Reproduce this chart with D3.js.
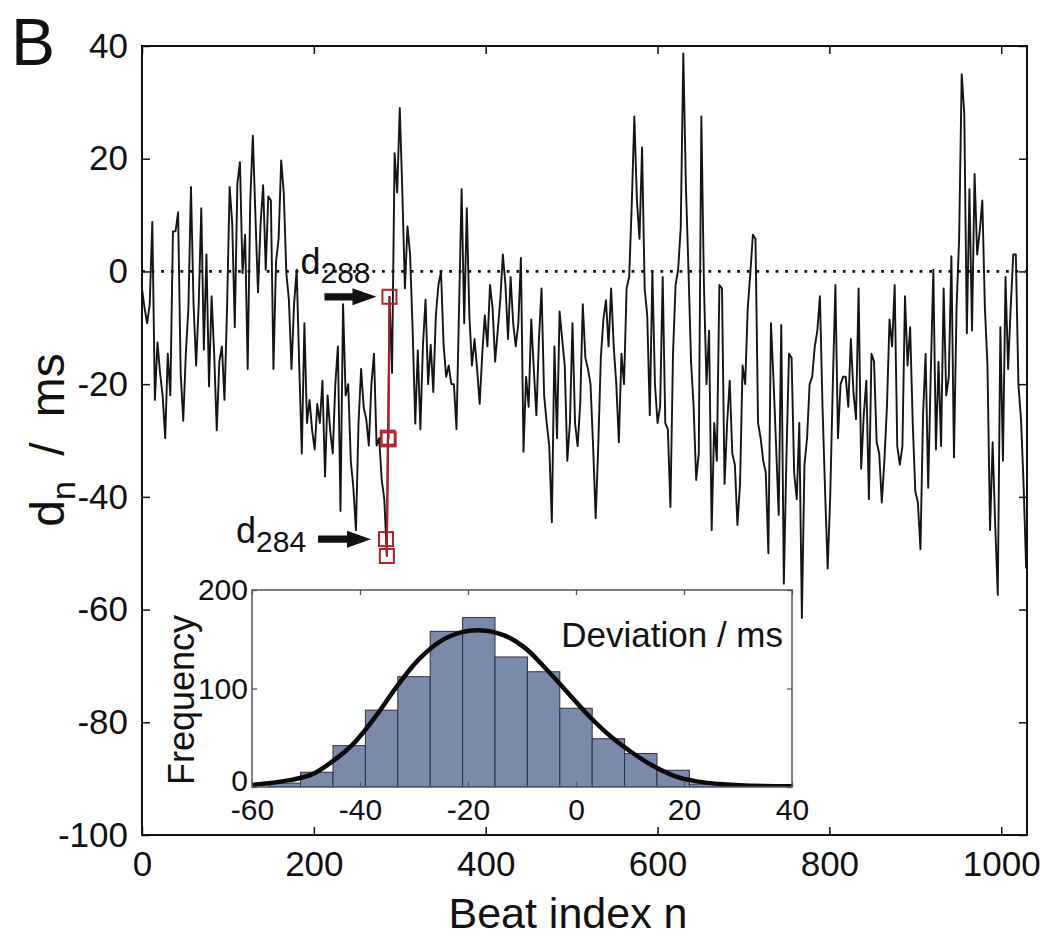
<!DOCTYPE html>
<head>
  <meta charset="utf-8">
  <script src="https://d3js.org/d3.v7.min.js"></script>
  <style>
    body { margin: 0; background: #fff; }
    svg text { font-family: "Liberation Sans", Arial, sans-serif; fill: #111; }
  </style>
</head>
<body>
<script>
// d_n in ms, every 3rd beat, split in five stretches
var dnPart1 = [-3.1, -6.5, -9.2, -5.8, 8.8, -22.8, -12.6, -18, -22, -29.6, -14.6, -22, 7.1, 7.1, 10.5, -18, -26.5, -14.6, -6.5, 15,
  -5.8, -16.7, -5.8, 11.2, -13.9, 3, -20.4, -4.4, -14.6, -28.2, -16, -13.3, -22.8, -6.5, 15, 8.5, -9.9, 15.6, 19.4, -0.3,
  6.5, -17.3, 12.6, 24.1, 9.9, -3.7, 8.5, 15.3, 0.3, 13.3, 12.6, -17.3, 1.7, 5.8, 19.7, 13.9, -0.3, -5.1, -17.3, -5.8,
  0.3, -16.7, -32.3, -9.2, -26.9, -22.8, -28.2, -31.6, -23.5];
var dnPart2 = [-26.9, -19.4, -36.4, -22, -28.2, -32.3, -20, -13.3, -42.5, -5.8, -22, -20, -33.6, -38.4, -45.9, -26.9, -17.3, -24.1, -26.2, -30.9,
  -20, -14.6, -30.9, -29.6, -37, -40.4, -50.5, -4.5, -18, 21, 14, 29, 14, -3, 8, 3, -10.5, -27, -14, -28,
  -13, -5, -20, -13, -21.4, -7.8, -2.4, 0, -13, -18.7, -16.7, -20, -20, -28, -6.5, 14.6, -9.2, 11.2, -7.8, -16.7,
  -12, -17.3, -23.5, -14.6, -7.8, -13.3, -2.4, -6.5];
var dnPart3 = [-16, -10.5, -5, 3, -2.4, -12, -1, -9.2, -13.3, -9.2, 2.4, -32, -18.7, -24, -8.5, -17.3, -25.5, -12, -3, -22,
  -26.9, -31, -44.5, -13.3, -29.6, -7.1, -12, -16.7, -33.6, -26.9, -9.2, -26.9, -31, -23.5, -5.8, -15.3, -17.3, -20, -31, -43.8,
  -31, -15.3, -8.5, -5.1, -13.3, -3, -13.3, -20, -30.3, -14.6, -20, -3, -1, 11.9, 27.5, 12.6, 5.8, 22, -3, -7.8,
  -25.5, 0, -20, -26.9, -24, -1, -26.9];
var dnPart4 = [-28, -41.8, -14.6, -2.4, 0.3, 7.8, 38.7, 15.3, 0.3, -16, -24, -37, -32.3, 27.5, -2.4, -20, -10.5, -45.9, -26.9, -33.6,
  -2.4, -3, -37.7, -26.9, -19.4, -32.3, -34.3, -45, -37.7, -16.7, -20, -6.5, -0.3, 6.5, 5.8, -26.9, -29.6, -33.6, -35.7, -50,
  -9.2, -19.4, -31, -43.2, -9.5, -55.4, -33, -14.6, -15.3, -35.7, -40.4, -26.9, -61.5, -34.3, -29.6, -20, -18.7, -13.3, -10.5, -4.4,
  -24, -39, -52.7, -39.8, -20, -2.4, -29.6, -20, -18.7];
var dnPart5 = [-18.7, -24, -12, -21.4, -26.2, -3, -35, -25.5, -19.4, -40.4, -14.6, -16, -30.3, -32.3, -41, -33.6, -24, -8.5, -13.3, -2.4,
  -31, -34.3, -31, -4.4, -16.7, -9.9, -26.9, -39, -41, -49.3, -25.5, -14.6, -38.4, -18, 0.3, -31.6, -16, -31, -3, -22,
  -18.7, 2.7, -33, -6.5, 5.8, 35, 28, -11, 14.6, -10.5, 17.3, 3, 7.1, 12.6, -6.5, -16.7, -45.9, -30.3, -45, -57.4,
  -9.9, -33.6, -1, -17.3, -6.5, 3, 3, -20, -26.2, -37.7, -52.7];
var beatStep = 3;

// the highlighted beats d284 ... d288
var redBeats = [284, 285, 286, 287, 288];
var redValues = [-47.5, -50.5, -29.5, -29.8, -4.5];

// histogram of deviations (bin centres, counts) and the fitted curve
var binCenters = [-54, -48, -42, -36, -30, -24, -18, -12, -6, 0, 6, 12, 18, 24, 30];
var binCounts = [4, 15, 42, 78, 112, 158, 172, 132, 117, 80, 49, 34, 17, 3, 1];
var binWidth = 6;
var fitDev = [-60, -53, -49, -45.1, -41.1, -37.1, -33.2, -29.2, -25.2, -21.3, -17.3, -13.3, -9.4, -5.4, -1.4, 2.5, 6.5, 10.5, 14.4, 18.4, 22.4, 30.3, 40];
var fitFreq = [2, 7, 12.5, 26, 44.6, 71.6, 102, 129, 147.6, 157, 159, 154, 141, 119, 95, 71.6, 51, 34.5, 21, 10.8, 5.7, 1.7, 0.7];

var xTicks = [0, 200, 400, 600, 800, 1000];
var yTicks = [-100, -80, -60, -40, -20, 0, 20, 40];
var insetXTicks = [-60, -40, -20, 0, 20, 40];
var insetYTicks = [0, 100, 200];

var dn = dnPart1.concat(dnPart2, dnPart3, dnPart4, dnPart5);
var series = dn.map(function(v, i) { return { beat: i * beatStep, value: v }; });
var redPoints = redBeats.map(function(b, i) { return { beat: b, value: redValues[i] }; });

var outerWidth = 1040, outerHeight = 938;
var plot = { left: 142, right: 1027, top: 46, bottom: 835 };
var inset = { left: 252, right: 792, top: 590, bottom: 787 };

var x = d3.scaleLinear().domain([0, 1030]).range([plot.left, plot.right]);
var y = d3.scaleLinear().domain([-100, 40]).range([plot.bottom, plot.top]);
var ix = d3.scaleLinear().domain([-60, 40]).range([inset.left, inset.right]);
var iy = d3.scaleLinear().domain([0, 200]).range([inset.bottom, inset.top]);

// plain hyphen minus like the original figure
var plainNum = function(d) { return String(d); };

var svg = d3.select("body").append("svg")
  .attr("width", outerWidth)
  .attr("height", outerHeight);

var defs = svg.append("defs");
defs.append("clipPath").attr("id", "plotClip").append("rect")
  .attr("x", plot.left).attr("y", plot.top)
  .attr("width", plot.right - plot.left).attr("height", plot.bottom - plot.top);
defs.append("clipPath").attr("id", "insetClip").append("rect")
  .attr("x", inset.left).attr("y", inset.top)
  .attr("width", inset.right - inset.left).attr("height", inset.bottom - inset.top);

// dotted zero line
svg.append("line")
  .attr("x1", x(0)).attr("x2", x(1030))
  .attr("y1", y(0)).attr("y2", y(0))
  .attr("stroke", "#111")
  .attr("stroke-width", 2.8)
  .attr("stroke-dasharray", "2.8,6.8");

// the beat trace
var line = d3.line()
  .x(function(d) { return x(d.beat); })
  .y(function(d) { return y(d.value); });

svg.append("path")
  .datum(series)
  .attr("clip-path", "url(#plotClip)")
  .attr("d", line)
  .attr("fill", "none")
  .attr("stroke", "#141414")
  .attr("stroke-width", 1.9)
  .attr("stroke-linejoin", "round");

// highlighted beats
var red = "#b0202a";
svg.append("path")
  .datum(redPoints)
  .attr("d", line)
  .attr("fill", "none")
  .attr("stroke", red)
  .attr("stroke-width", 2);

var sq = 14;
svg.selectAll(".redSq")
  .data(redPoints)
  .enter().append("rect")
  .attr("class", "redSq")
  .attr("x", function(d) { return x(d.beat) - sq / 2; })
  .attr("y", function(d) { return y(d.value) - sq / 2; })
  .attr("width", sq).attr("height", sq)
  .attr("fill", "none")
  .attr("stroke", red)
  .attr("stroke-width", 2);

// arrows and labels for d288 and d284
function arrow(tipX, tipY, len) {
  var head = 24, half = 8.5, shaft = 3.6;
  var p = [
    [tipX - len, tipY - shaft], [tipX - head, tipY - shaft], [tipX - head, tipY - half],
    [tipX, tipY], [tipX - head, tipY + half], [tipX - head, tipY + shaft], [tipX - len, tipY + shaft]
  ];
  svg.append("path")
    .attr("d", "M" + p.join("L") + "Z")
    .attr("fill", "#111");
}

function subLabel(xPos, yPos, sub) {
  var t = svg.append("text")
    .attr("x", xPos).attr("y", yPos)
    .style("font-size", "36px");
  t.append("tspan").text("d");
  t.append("tspan").attr("dy", 9).style("font-size", "30px").text(sub);
}

var p288 = redPoints[4], p284 = redPoints[0];
arrow(x(p288.beat) - 13, y(p288.value), 52);
subLabel(x(p288.beat) - 89, y(p288.value) - 23, "288");
arrow(x(p284.beat) - 15, y(p284.value), 53);
subLabel(x(p284.beat) - 150, y(p284.value) + 4, "284");

// main axes, MATLAB style with inward ticks on all four sides
function styleAxis(g, size) {
  g.select(".domain").remove();
  g.selectAll(".tick line").attr("stroke", "#111").attr("stroke-width", 1.5);
  g.selectAll("text").style("font-size", size + "px");
}

svg.append("g")
  .attr("transform", "translate(0," + plot.bottom + ")")
  .call(d3.axisBottom(x).tickValues(xTicks).tickFormat(plainNum).tickSize(-8).tickPadding(16))
  .call(styleAxis, 35);
svg.append("g")
  .attr("transform", "translate(0," + plot.top + ")")
  .call(d3.axisTop(x).tickValues(xTicks).tickSize(-8).tickFormat(""))
  .call(styleAxis, 35);
svg.append("g")
  .attr("transform", "translate(" + plot.left + ",0)")
  .call(d3.axisLeft(y).tickValues(yTicks).tickFormat(plainNum).tickSize(-8).tickPadding(14))
  .call(styleAxis, 35);
svg.append("g")
  .attr("transform", "translate(" + plot.right + ",0)")
  .call(d3.axisRight(y).tickValues(yTicks).tickSize(-8).tickFormat(""))
  .call(styleAxis, 35);

svg.append("rect")
  .attr("x", plot.left).attr("y", plot.top)
  .attr("width", plot.right - plot.left).attr("height", plot.bottom - plot.top)
  .attr("fill", "none")
  .attr("stroke", "#111")
  .attr("stroke-width", 2);

// axis titles and panel letter
svg.append("text")
  .attr("x", 568).attr("y", 928)
  .attr("text-anchor", "middle")
  .style("font-size", "43px")
  .text("Beat index n");

var yTitle = svg.append("text")
  .attr("transform", "translate(64,440) rotate(-90)")
  .attr("text-anchor", "middle")
  .style("font-size", "48px")
  .style("word-spacing", "12px");
yTitle.append("tspan").text("d");
yTitle.append("tspan").attr("dy", 11).style("font-size", "34px").text("n");
yTitle.append("tspan").attr("dy", -11).text(" / ms");

svg.append("text")
  .attr("x", 11).attr("y", 65)
  .style("font-size", "66px")
  .text("B");

// inset histogram
svg.append("rect")
  .attr("x", inset.left).attr("y", inset.top)
  .attr("width", inset.right - inset.left).attr("height", inset.bottom - inset.top)
  .attr("fill", "#fff");

var ig = svg.append("g").attr("clip-path", "url(#insetClip)");
ig.selectAll(".bar")
  .data(binCenters)
  .enter().append("rect")
  .attr("class", "bar")
  .attr("x", function(c) { return ix(c - binWidth / 2); })
  .attr("width", function(c) { return ix(c + binWidth / 2) - ix(c - binWidth / 2); })
  .attr("y", function(c, i) { return iy(binCounts[i]); })
  .attr("height", function(c, i) { return iy(0) - iy(binCounts[i]); })
  .attr("fill", "#7b89ab")
  .attr("stroke", "#2c3040")
  .attr("stroke-width", 1);

var fitLine = d3.line()
  .curve(d3.curveCatmullRom)
  .x(function(d, i) { return ix(d); })
  .y(function(d, i) { return iy(fitFreq[i]); });

ig.append("path")
  .datum(fitDev)
  .attr("d", fitLine)
  .attr("fill", "none")
  .attr("stroke", "#0a0a0a")
  .attr("stroke-width", 4.5);

function styleInset(g) {
  g.select(".domain").remove();
  g.selectAll(".tick line").attr("stroke", "#555").attr("stroke-width", 1.3);
  g.selectAll("text").style("font-size", "30px");
}

svg.append("g")
  .attr("transform", "translate(0," + inset.bottom + ")")
  .call(d3.axisBottom(ix).tickValues(insetXTicks).tickFormat(plainNum).tickSize(-5).tickPadding(12))
  .call(styleInset);
svg.append("g")
  .attr("transform", "translate(0," + inset.top + ")")
  .call(d3.axisTop(ix).tickValues(insetXTicks).tickSize(-5).tickFormat(""))
  .call(styleInset);
var insetLeft = svg.append("g")
  .attr("transform", "translate(" + inset.left + ",0)")
  .call(d3.axisLeft(iy).tickValues(insetYTicks).tickFormat(plainNum).tickSize(-5).tickPadding(4))
  .call(styleInset);
// keep the "0" label clear of the "-60" label below it
insetLeft.selectAll(".tick text").attr("dy", function(d) { return d === 0 ? "0.1em" : "0.32em"; });
svg.append("g")
  .attr("transform", "translate(" + inset.right + ",0)")
  .call(d3.axisRight(iy).tickValues(insetYTicks).tickSize(-5).tickFormat(""))
  .call(styleInset);

svg.append("rect")
  .attr("x", inset.left).attr("y", inset.top)
  .attr("width", inset.right - inset.left).attr("height", inset.bottom - inset.top)
  .attr("fill", "none")
  .attr("stroke", "#555")
  .attr("stroke-width", 1.5);

svg.append("text")
  .attr("transform", "translate(194,700) rotate(-90)")
  .attr("text-anchor", "middle")
  .style("font-size", "36px")
  .text("Frequency");

svg.append("text")
  .attr("x", 783).attr("y", 647)
  .attr("text-anchor", "end")
  .style("font-size", "35px")
  .text("Deviation / ms");
</script>
</body>
